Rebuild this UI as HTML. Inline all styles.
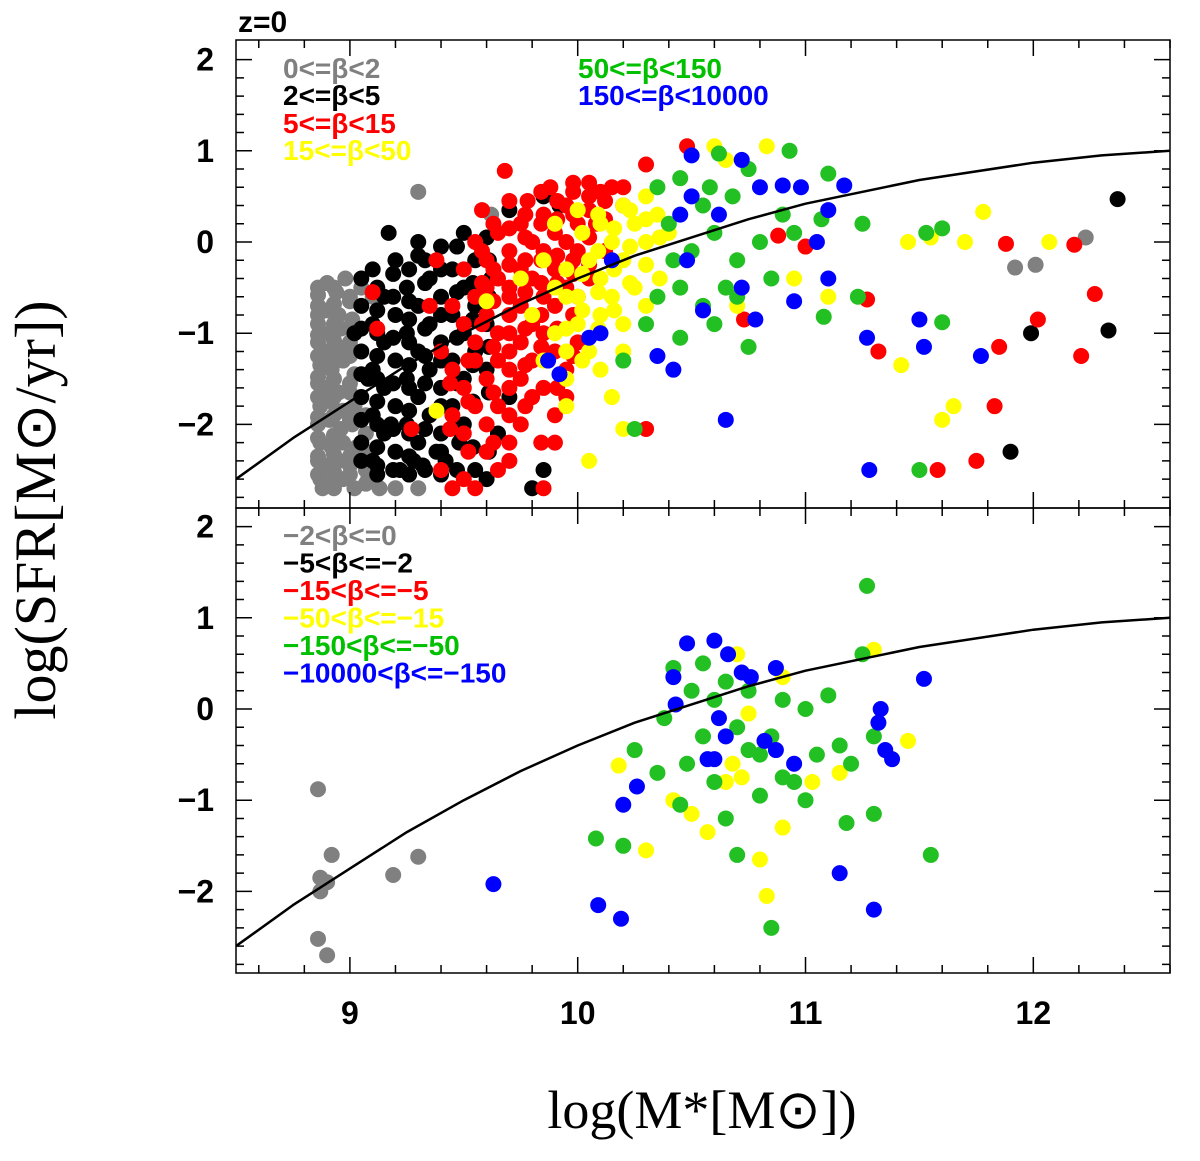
<!DOCTYPE html>
<html><head><meta charset="utf-8"><style>
html,body{margin:0;padding:0;background:#fff}
svg{display:block;font-family:"Liberation Sans",sans-serif}
</style></head><body>
<svg id="chart" width="1200" height="1161" viewBox="0 0 1200 1161" xmlns="http://www.w3.org/2000/svg"></svg>
<script>
const xTicks=[9,10,11,12];
const yTicks=[2,1,0,-1,-2];
const yTickLabels=["2","1","0","\u22121","\u22122"];
const curveX=[8.5,8.75,9.0,9.25,9.5,9.75,10.0,10.25,10.5,10.75,11.0,11.5,12.0,12.3,12.6];
const curveY=[-2.6,-2.15,-1.75,-1.35,-1.0,-0.68,-0.4,-0.15,0.05,0.25,0.42,0.68,0.87,0.95,1.0];
const topGray=[8.86,-0.5,8.9,-0.45,8.94,-0.55,8.86,-0.7,8.9,-0.75,8.95,-0.8,9.0,-0.6,8.86,-0.9,8.91,-1.0,8.96,-0.95,9.01,-0.85,8.86,-1.1,8.9,-1.2,8.95,-1.15,9.0,-1.1,8.87,-1.35,8.92,-1.4,8.97,-1.3,9.02,-1.45,8.86,-1.55,8.9,-1.6,8.95,-1.65,9.0,-1.55,8.87,-1.8,8.92,-1.75,8.97,-1.85,9.02,-1.8,8.86,-2.0,8.91,-1.95,8.96,-2.05,9.01,-2.0,8.87,-2.2,8.92,-2.25,8.97,-2.2,9.03,-2.25,8.86,-2.4,8.9,-2.45,8.95,-2.4,9.0,-2.45,9.06,-2.4,8.87,-2.6,8.92,-2.65,8.97,-2.6,9.02,-2.7,9.08,-2.6,9.13,-2.7,9.2,-2.7,9.3,-2.7,8.88,-2.7,9.3,0.55,9.62,0.3,11.92,-0.28,12.01,-0.25,12.23,0.05,9.05,-0.5,9.1,-0.6,8.98,-0.4,
8.86,-0.58,8.86,-0.8,8.86,-1.02,8.86,-1.25,8.86,-1.48,8.86,-1.7,8.86,-1.92,8.86,-2.15,8.86,-2.35,8.86,-2.55,
8.93,-0.5,8.93,-0.68,8.93,-0.9,8.93,-1.08,8.93,-1.28,8.93,-1.5,8.93,-1.7,8.93,-1.9,8.93,-2.12,8.93,-2.33,8.93,-2.52,8.93,-2.7,
9.0,-0.65,9.0,-0.95,9.0,-1.25,9.0,-1.65,9.0,-1.95,9.0,-2.35,9.0,-2.55,
9.07,-1.9,9.07,-2.1,9.07,-2.3,9.07,-2.5,9.07,-2.65];
const topBlack=[9.05,-0.7,9.1,-0.9,9.15,-0.6,9.2,-0.8,9.25,-0.5,9.3,-0.7,9.35,-0.4,9.4,-0.6,9.45,-0.3,9.5,-0.5,9.55,-0.2,9.05,-1.2,9.1,-1.4,9.15,-1.1,9.2,-1.3,9.25,-1.0,9.3,-1.2,9.35,-0.9,9.4,-1.1,9.45,-0.8,9.5,-1.0,9.55,-0.7,9.6,-0.9,9.05,-1.7,9.1,-1.9,9.15,-1.6,9.2,-1.8,9.25,-1.5,9.3,-1.7,9.35,-1.4,9.4,-1.6,9.45,-1.3,9.5,-1.5,9.55,-1.2,9.6,-1.4,9.05,-2.2,9.1,-2.4,9.15,-2.1,9.2,-2.3,9.25,-2.0,9.3,-2.2,9.35,-1.9,9.4,-2.1,9.45,-1.8,9.5,-2.0,9.12,-2.55,9.22,-2.5,9.32,-2.45,9.42,-2.4,9.1,-0.3,9.2,-0.2,9.3,-0.15,9.4,-0.05,9.17,0.1,9.3,0.0,9.5,0.1,9.7,0.35,9.85,0.5,9.92,0.4,9.6,0.05,12.37,0.47,12.33,-0.97,11.99,-1.0,11.9,-2.3,9.55,-2.5,9.6,-2.6,9.85,-2.5,9.8,-2.7,9.65,-2.1,9.7,-1.7,9.02,-1.0,9.08,-1.5,9.18,-2.0,9.28,-2.4,9.38,-2.3,9.48,-2.2,9.62,-0.4,
9.05,-0.4,9.05,-0.95,9.05,-1.45,9.05,-1.95,9.05,-2.4,
9.12,-0.5,9.12,-0.75,9.12,-1.0,9.12,-1.25,9.12,-1.5,9.12,-1.75,9.12,-2.0,9.12,-2.25,9.12,-2.45,
9.19,-0.35,9.19,-0.6,9.19,-1.05,9.19,-1.55,9.19,-2.05,9.19,-2.5,
9.26,-0.3,9.26,-0.65,9.26,-0.85,9.26,-1.1,9.26,-1.35,9.26,-1.6,9.26,-1.85,9.26,-2.1,9.26,-2.35,9.26,-2.55,
9.33,-0.2,9.33,-0.45,9.33,-0.95,9.33,-1.25,9.33,-1.55,9.33,-2.05,9.33,-2.5,
9.4,-0.3,9.4,-0.8,9.4,-1.3,9.4,-1.8,9.4,-2.3,9.4,-2.55,
9.47,-0.05,9.47,-0.55,9.47,-1.05,9.47,-1.55,9.47,-2.05,9.47,-2.5,
9.54,-0.45,9.54,-0.85,9.54,-1.35,9.54,-1.75,9.54,-2.25,
9.61,-0.2,9.61,-0.6,9.61,-1.15,9.61,-1.65,9.61,-2.3];
const topRed=[9.5,-0.3,9.55,0.0,9.6,-0.2,9.65,0.1,9.7,-0.1,9.75,0.2,9.8,0.0,9.85,0.3,9.9,0.1,9.95,0.4,10.0,0.2,9.55,-0.6,9.6,-0.5,9.65,-0.4,9.7,-0.5,9.75,-0.3,9.8,-0.4,9.85,-0.1,9.9,-0.3,9.95,0.0,10.0,-0.1,10.05,0.5,9.45,-0.7,9.5,-0.9,9.55,-1.1,9.6,-0.8,9.65,-1.0,9.7,-0.8,9.75,-0.7,9.8,-0.9,9.85,-0.6,9.9,-0.7,9.95,-0.5,10.0,-0.6,9.4,-1.2,9.45,-1.4,9.5,-1.6,9.55,-1.3,9.6,-1.5,9.65,-1.3,9.7,-1.2,9.75,-1.1,9.8,-1.3,9.85,-1.0,9.9,-1.2,9.45,-1.9,9.5,-2.1,9.55,-1.8,9.6,-2.0,9.65,-1.8,9.7,-1.6,9.75,-1.5,9.8,-1.7,9.85,-1.6,9.9,-1.9,9.95,-1.7,9.4,-2.5,9.45,-2.7,9.5,-2.6,9.55,-2.7,9.6,-2.3,9.65,-2.5,9.7,-2.2,9.75,-2.0,9.85,-2.7,9.9,-2.2,9.1,-0.55,9.12,-0.95,9.35,-0.7,9.38,-0.2,9.58,0.35,9.78,0.45,9.88,0.6,9.98,0.65,10.15,0.6,10.08,0.2,9.68,0.78,10.1,0.55,10.3,0.85,10.48,1.05,10.88,0.07,11.0,-0.05,11.27,-0.63,11.32,-1.2,11.58,-2.5,11.75,-2.4,11.83,-1.8,11.85,-1.15,12.02,-0.85,12.18,-0.03,12.21,-1.25,12.27,-0.57,11.88,-0.02,10.73,-0.85,10.3,-2.05,9.27,-2.05,10.0,-1.1,9.95,-1.4,10.05,-0.4,
9.58,-0.1,9.58,-0.45,9.58,-0.9,
9.63,0.2,9.63,-0.3,9.63,-0.65,9.63,-1.15,9.63,-1.65,9.63,-2.2,
9.7,0.45,9.7,0.15,9.7,-0.25,9.7,-0.6,9.7,-1.0,9.7,-1.4,9.7,-1.9,9.7,-2.4,
9.77,0.3,9.77,0.05,9.77,-0.2,9.77,-0.55,9.77,-0.95,9.77,-1.35,9.77,-1.8,
9.84,0.55,9.84,0.2,9.84,-0.2,9.84,-0.45,9.84,-0.8,9.84,-1.15,9.84,-2.2,
9.91,0.45,9.91,0.25,9.91,-0.15,9.91,-0.45,9.91,-0.95,9.91,-1.6,
9.98,0.55,9.98,0.3,9.98,-0.2,9.98,-0.35,9.98,-0.8,9.98,-1.25,
10.05,0.65,10.05,0.35,10.05,0.05,10.05,-0.25,
10.12,0.45,10.12,0.25,10.12,-0.1,
10.2,0.6,10.2,0.4,
9.52,-1.3,9.52,-1.75,9.52,-2.3,9.44,-1.55,9.44,-2.05];
const topYellow=[9.85,-0.2,9.9,-0.5,9.95,-0.3,10.0,-0.6,10.05,-0.2,10.1,-0.4,10.15,0.0,10.2,-0.2,10.25,0.2,10.3,0.0,10.35,0.3,10.4,0.1,9.8,-0.8,9.9,-1.0,10.0,-0.9,10.05,-1.2,10.1,-0.8,10.15,-0.6,10.2,-0.9,10.25,-0.5,10.3,-0.7,9.85,-1.3,9.95,-1.5,10.1,-1.4,10.2,-1.2,10.3,0.5,10.2,0.4,10.1,0.2,9.6,-0.65,9.75,-0.4,9.9,0.2,10.0,0.35,11.45,0.0,11.55,0.05,10.6,1.05,10.83,1.05,10.65,0.9,11.7,-0.0,11.78,0.33,12.07,-0.0,11.42,-1.35,11.6,-1.95,11.65,-1.8,10.05,-2.4,10.2,-2.05,9.38,-1.85,10.7,-0.7,10.95,-0.4,11.1,-0.6,9.95,-1.8,10.15,-1.7,
9.95,-0.6,9.95,-0.95,9.95,-1.2,
10.02,0.1,10.02,-0.35,10.02,-0.75,10.02,-1.3,
10.09,0.3,10.09,-0.1,10.09,-0.55,10.09,-0.95,
10.16,0.15,10.16,-0.3,10.16,-0.75,
10.23,0.35,10.23,-0.05,10.23,-0.45,
10.3,0.25,10.3,-0.25,10.36,0.05,10.36,-0.4];
const topGreen=[10.62,0.97,10.75,0.8,10.93,1.0,11.1,0.75,11.07,0.25,11.25,0.2,11.53,0.1,11.6,0.15,11.6,-0.88,11.5,-2.5,11.23,-0.6,11.08,-0.82,10.75,-1.15,10.2,-1.3,10.25,-2.05,10.45,-1.05,10.35,0.6,10.45,0.7,10.55,0.4,10.4,0.2,10.5,-0.1,10.6,0.1,10.7,-0.2,10.8,0.0,10.85,-0.4,10.65,-0.5,10.55,-0.7,10.45,-0.5,10.35,-0.6,10.3,-0.9,10.6,-0.9,10.7,-0.6,10.9,0.3,10.95,0.1,10.42,-0.2,10.58,0.6,10.68,0.5];
const topBlue=[10.72,0.9,10.9,0.62,10.98,0.6,11.17,0.62,11.1,0.35,11.05,-0.0,11.1,-0.4,11.27,-1.05,11.28,-2.5,11.5,-0.85,11.52,-1.15,11.77,-1.25,10.42,-1.4,10.35,-1.25,10.1,-1.0,10.05,-1.05,9.87,-1.3,9.92,-1.45,10.65,-1.95,10.55,-0.75,10.72,-0.5,10.78,-0.85,10.95,-0.65,10.5,0.5,10.45,0.3,10.48,-0.2,10.62,0.3,10.15,-0.2,10.8,0.6,10.5,0.95];
const botGray=[8.86,-0.88,8.87,-1.85,8.87,-2.0,8.9,-1.9,8.92,-1.6,9.19,-1.82,9.3,-1.62,8.86,-2.52,8.9,-2.7];
const botYellow=[10.18,-0.62,10.3,-1.55,10.42,-1.0,10.5,-1.15,10.57,-1.35,10.65,-0.8,10.8,-1.65,10.83,-2.05,10.9,-1.3,11.15,-0.7,11.3,0.65,11.45,-0.35,10.75,-0.05,10.7,0.6,10.9,0.35,10.72,-0.75,10.68,-0.6,11.03,-0.8];
const botGreen=[11.27,1.35,10.85,-2.4,11.55,-1.6,11.3,-1.15,10.2,-1.5,10.08,-1.42,10.25,-0.45,10.35,-0.7,10.42,0.45,10.5,0.2,10.55,0.5,10.6,0.1,10.65,0.3,10.7,-0.2,10.75,0.2,10.8,-0.5,10.85,-0.3,10.9,0.1,10.95,-0.8,11.0,0.0,11.05,-0.5,11.1,0.15,11.15,-0.4,11.2,-0.6,11.25,0.6,11.3,-0.3,10.45,-1.05,10.55,-0.3,10.6,-0.8,10.65,-1.2,10.7,-1.6,10.75,-0.45,10.8,-0.95,10.9,-0.75,11.0,-1.0,11.18,-1.25,10.38,-0.1,10.48,-0.6];
const botBlue=[9.63,-1.92,10.09,-2.15,10.19,-2.3,10.2,-1.05,10.26,-0.85,10.43,0.05,10.42,0.35,10.48,0.72,10.6,0.75,10.66,0.6,10.72,0.4,10.76,0.35,10.87,0.45,10.57,-0.55,10.6,-0.55,10.65,-0.3,10.62,-0.1,10.82,-0.35,10.87,-0.45,10.95,-0.6,11.15,-1.8,11.3,-2.2,11.33,0.0,11.32,-0.15,11.35,-0.45,11.38,-0.55,11.52,0.33];
const topLegend=[["0<=\u03b2<2","#808080",283,78],["2<=\u03b2<5","#000",283,105],["5<=\u03b2<15","#ff0000",283,133],["15<=\u03b2<50","#ffff00",283,160],["50<=\u03b2<150","#00c000",578,78],["150<=\u03b2<10000","#0000ff",578,105]];
const botLegend=[["\u22122<\u03b2<=0","#808080"],["\u22125<\u03b2<=\u22122","#000"],["\u221215<\u03b2<=\u22125","#ff0000"],["\u221250<\u03b2<=\u221215","#ffff00"],["\u2212150<\u03b2<=\u221250","#00c000"],["\u221210000<\u03b2<=\u2212150","#0000ff"]];

const NS="http://www.w3.org/2000/svg";
const svg=document.getElementById('chart');
const L=236,R=1170;
const panels=[{top:40,bot:508,y0:242,name:'top'},{top:508,bot:973,y0:709,name:'bottom'}];
const sx=v=>L+(v-8.5)*(R-L)/4.1;
const PY=91.2;
function mk(tag,attrs,parent){const e=document.createElementNS(NS,tag);for(const k in attrs)e.setAttribute(k,attrs[k]);(parent||svg).appendChild(e);return e;}

panels.forEach((p,pi)=>{
  const sy=v=>p.y0-v*PY;
  const g=mk('g',{});
  
  
  const clip=mk('clipPath',{id:'c'+pi},g);
  mk('rect',{x:L,y:p.top,width:R-L,height:p.bot-p.top},clip);
  const plot=mk('g',{'clip-path':'url(#c'+pi+')'},g);
  const sets=pi===0?[[topGray,'#808080','gray'],[topBlack,'#000','black'],[topRed,'#ff0000','red'],[topYellow,'#ffff00','yellow'],[topGreen,'#22c022','green'],[topBlue,'#0000ff','blue']]
                   :[[botGray,'#808080','gray'],[botYellow,'#ffff00','yellow'],[botGreen,'#22c022','green'],[botBlue,'#0000ff','blue']];
  sets.forEach(s=>{
    const sg=mk('g',{fill:s[1]},plot);
    
    
    for(let i=0;i<s[0].length;i+=2){
      const c=mk('circle',{cx:sx(s[0][i]),cy:sy(s[0][i+1]),r:8},sg);
      
      
    }
  });
  let d='';curveX.forEach((x,i)=>{d+=(i?'L':'M')+sx(x).toFixed(1)+','+sy(curveY[i]).toFixed(1);});
  const cp=mk('path',{d:d,fill:'none',stroke:'#000','stroke-width':2.5,'stroke-linejoin':'round'},plot);
  
  
  const fr=mk('rect',{x:L,y:p.top,width:R-L,height:p.bot-p.top,fill:'none',stroke:'#000','stroke-width':1.5},g);
  
  
  let td='';
  for(let v=8.6;v<12.6;v+=0.2){const x=sx(v);const maj=Math.abs(v-Math.round(v))<0.01;const len=maj?16:8;td+=`M${x},${p.bot}v${-len}M${x},${p.top}v${len}`;}
  for(let v=-2.8;v<=2.2;v+=0.2){const y=sy(v);if(y<=p.top+1||y>=p.bot-1)continue;const maj=Math.abs(v-Math.round(v))<0.01;const len=maj?16:8;td+=`M${L},${y}h${len}M${R},${y}h${-len}`;}
  mk('path',{d:td,stroke:'#000','stroke-width':1.5,fill:'none'},g);
  yTicks.forEach((v,i)=>{
    const t=mk('text',{x:214,y:sy(v)+11,'text-anchor':'end','font-size':32,'font-weight':'bold'},g);
    t.textContent=yTickLabels[i];
    
    
  });
});
xTicks.forEach(v=>{
  const t=mk('text',{x:sx(v),y:1024,'text-anchor':'middle','font-size':32,'font-weight':'bold'});
  t.textContent=v;
  
  
});
topLegend.forEach(l=>{
  const t=mk('text',{x:l[2],y:l[3],'font-size':28,'font-weight':'bold',fill:l[1]});
  t.textContent=l[0];
  
  
});
botLegend.forEach((l,i)=>{
  const t=mk('text',{x:283,y:545+i*27.5,'font-size':28,'font-weight':'bold',fill:l[1]});
  t.textContent=l[0];
  
  
});
const z=mk('text',{x:238,y:32,'font-size':30,'font-weight':'bold'});z.textContent='z=0';


const xt=mk('text',{x:702,y:1128,'text-anchor':'middle','font-size':54,'font-family':'Liberation Serif, serif'});
xt.textContent='log(M*[M\u2299])';


const yt=mk('text',{x:0,y:0,'text-anchor':'middle','font-size':58,'font-family':'Liberation Serif, serif',transform:'translate(55,510) rotate(-90)'});
yt.textContent='log(SFR[M\u2299/yr])';


</script>
</body></html>
